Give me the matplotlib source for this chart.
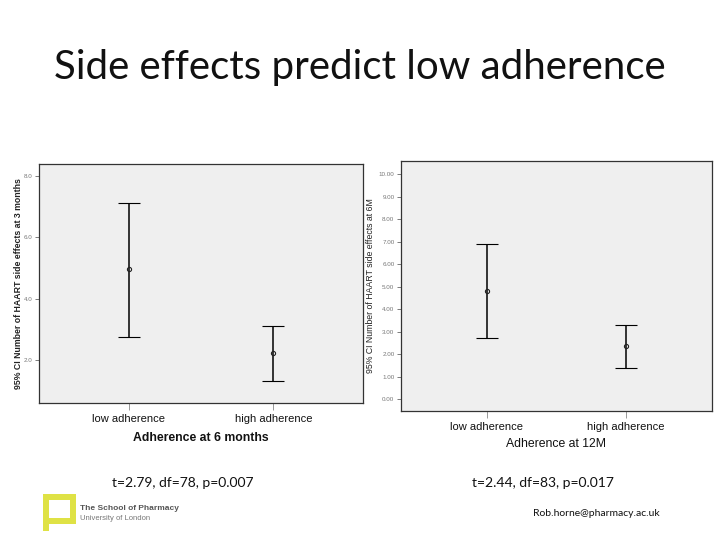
import matplotlib
matplotlib.use("Agg")
import matplotlib.pyplot as plt
from matplotlib.patches import Rectangle
import numpy as np

# Data
categories = ["low adherence", "high adherence"]
left_mean = [4.96, 2.22]
left_low = [2.74, 1.32]
left_high = [7.12, 3.11]
left_ticks = [2.0, 4.0, 6.0, 8.0]
left_ticklabels = ["2.0", "4.0", "6.0", "8.0"]

right_mean = [4.83, 2.36]
right_low = [2.71, 1.38]
right_high = [6.92, 3.32]
right_ticks = [0, 1, 2, 3, 4, 5, 6, 7, 8, 9, 10]
right_ticklabels = ["%.2f" % v for v in right_ticks]

title = "Side effects predict low adherence"
stats_left = "t=2.79, df=78, p=0.007"
stats_right = "t=2.44, df=83, p=0.017"

fig = plt.figure(figsize=(7.2, 5.4), dpi=100)
fig.patch.set_facecolor("white")

SPSS = "Liberation Sans"
CAL = "Lato"


def spss_panel(rect, mean, low, high, ticks, ticklabels, ylim, ylabel, xlabel,
               ylabelpad, xlabelpad, xweight, ylabweight):
    ax = fig.add_axes(rect)
    ax.set_facecolor("#efefef")
    x = np.arange(len(categories))
    mean = np.array(mean)
    yerr = [mean - np.array(low), np.array(high) - mean]
    ax.errorbar(x, mean, yerr=yerr, fmt="o", ms=3, mfc="none", mec="#222222",
                mew=0.8, ecolor="black", elinewidth=1.1, capsize=8, capthick=1.3)
    ax.set_xlim(-0.62, 1.62)
    ax.set_ylim(*ylim)
    ax.set_xticks(x)
    ax.set_xticklabels(categories, fontsize=8, family=SPSS, color="#111111")
    ax.set_yticks(ticks)
    ax.set_yticklabels(ticklabels, fontsize=4.5, family=SPSS, color="#777777")
    ax.tick_params(axis="x", length=5, width=0.6, color="#888888", pad=3)
    ax.tick_params(axis="y", length=3, width=0.6, color="#666666", pad=1.5)
    ax.set_ylabel(ylabel, fontsize=6.3, family=SPSS, color="#222222",
                  labelpad=ylabelpad, weight=ylabweight)
    ax.set_xlabel(xlabel, fontsize=8.8, family=SPSS, color="#111111",
                  labelpad=xlabelpad, weight=xweight)
    for s in ax.spines.values():
        s.set_color("#333333")
        s.set_linewidth(0.9)
    return ax


spss_panel([0.0542, 0.2543, 0.45, 0.442], left_mean, left_low, left_high,
           left_ticks, left_ticklabels, (0.62, 8.38),
           "95% CI Number of HAART side effects at 3 months",
           "Adherence at 6 months", 0.5, 6, "semibold", "semibold")

spss_panel([0.5565, 0.2389, 0.432, 0.4635], right_mean, right_low, right_high,
           right_ticks, right_ticklabels, (-0.52, 10.6),
           "95% CI Number of HAART side effects at 6M",
           "Adherence at 12M", 2.5, 4, "normal", "normal")

# Title
fig.text(0.5, 1 - 67 / 540, title, ha="center", va="center", fontsize=29,
         family=CAL, color="#111111")

# Stats
fig.text(183 / 720, 1 - 483 / 540, stats_left, ha="center", va="center",
         fontsize=10, family=CAL, color="#111111")
fig.text(543 / 720, 1 - 483 / 540, stats_right, ha="center", va="center",
         fontsize=10, family=CAL, color="#111111")

# Email
fig.text(596 / 720, 1 - 514 / 540, "Rob.horne@pharmacy.ac.uk", ha="center",
         va="center", fontsize=7.5, family=CAL, color="#111111")

# Logo
logo_col = "#dfe245"
W, H = 720.0, 540.0
def fr(x0, y0, w, h):
    return Rectangle((x0 / W, 1 - (y0 + h) / H), w / W, h / H,
                     transform=fig.transFigure, facecolor=logo_col,
                     edgecolor="none")
fig.patches.extend([
    fr(43, 494, 33, 6),      # top
    fr(70, 494, 6, 30),      # right
    fr(43, 518, 33, 6),      # bottom
    fr(43, 494, 6, 37),      # left (with tail)
])
fig.text(80 / 720, 1 - 508 / 540, "The School of Pharmacy", ha="left",
         va="center", fontsize=6, family=SPSS, weight="bold", color="#555555")
fig.text(80 / 720, 1 - 519 / 540, "University of London", ha="left",
         va="center", fontsize=5.5, family=SPSS, color="#777777")

fig.savefig("out.png", dpi=100)
